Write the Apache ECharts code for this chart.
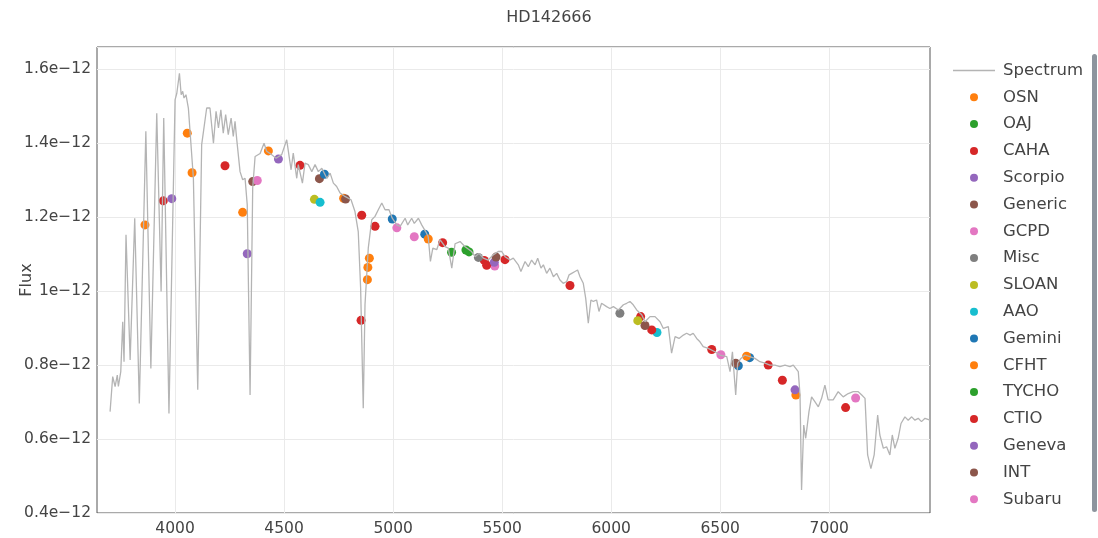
<!DOCTYPE html>
<html>
<head>
<meta charset="utf-8">
<title>HD142666</title>
<script src="https://cdn.jsdelivr.net/npm/echarts@6/dist/echarts.min.js"></script>
<style>
  html, body { margin: 0; padding: 0; background: #fff; }
  #chart { width: 1098px; height: 538px; }
</style>
</head>
<body>
<div id="chart"></div>
<script>
// Flux values are in units of 1e-12; wavelengths in Angstrom.
const xTicks = [4000, 4500, 5000, 5500, 6000, 6500, 7000];
const yTicks = [0.4, 0.6, 0.8, 1.0, 1.2, 1.4, 1.6];

const specWave = [3702,3714,3725,3735,3740,3751,3760,3766,3775,3794,3815,3836,3866,3889,3916,3936,3948,3972,
  4000,4008,4020,4028,4035,4041,4050,4061,4084,4104,4122,4145,4160,4176,4188,4199,4210,4221,4232,4244,4257,4267,
  4275,4283,4298,4310,4321,4331,4344,4356,4367,4375,4390,4408,4420,4428,4443,4463,4489,4512,4532,4542,4558,4565,
  4584,4596,4611,4627,4642,4657,4673,4696,4711,4726,4741,4757,4779,4807,4825,4840,4851,4863,4871,4886,4902,4917,
  4932,4948,4963,4981,4996,5017,5032,5055,5067,5085,5097,5116,5131,5149,5161,5171,5182,5200,5215,5238,5253,5269,
  5284,5307,5330,5360,5376,5394,5414,5436,5459,5482,5498,5513,5536,5551,5574,5586,5605,5620,5635,5651,5663,5678,
  5689,5704,5719,5735,5750,5765,5780,5796,5807,5819,5834,5846,5857,5872,5883,5895,5907,5918,5933,5944,5956,5979,
  5994,6010,6033,6056,6071,6086,6101,6117,6140,6155,6178,6201,6224,6239,6262,6277,6293,6311,6331,6346,6362,6376,
  6392,6407,6422,6445,6476,6499,6530,6545,6556,6571,6580,6595,6613,6636,6659,6682,6705,6728,6751,6774,6797,6820,
  6835,6858,6866,6873,6883,6892,6907,6919,6934,6950,6965,6980,6995,7018,7041,7064,7087,7110,7133,7149,7164,7176,
  7191,7206,7222,7232,7248,7263,7278,7289,7301,7316,7329,7347,7362,7378,7393,7408,7423,7439,7462];
const specFlux = [0.674,0.769,0.742,0.773,0.742,0.782,0.917,0.809,1.152,0.814,1.197,0.696,1.432,0.791,1.481,0.999,1.468,0.669,
  1.517,1.535,1.589,1.531,1.540,1.522,1.531,1.495,1.305,0.733,1.396,1.495,1.495,1.400,1.486,1.441,1.490,1.427,1.477,1.423,1.468,1.418,
  1.459,1.409,1.323,1.301,1.305,1.233,0.719,1.278,1.364,1.359,1.372,1.400,1.378,1.373,1.369,1.359,1.369,1.409,1.328,1.373,1.305,1.342,
  1.292,1.346,1.342,1.323,1.342,1.323,1.332,1.305,1.319,1.292,1.283,1.265,1.256,1.247,1.215,1.161,1.008,0.683,0.963,1.116,1.193,1.202,
  1.220,1.238,1.220,1.220,1.197,1.179,1.175,1.197,1.179,1.197,1.183,1.197,1.179,1.161,1.147,1.080,1.116,1.112,1.139,1.120,1.116,1.062,
  1.128,1.134,1.120,1.107,1.093,1.102,1.089,1.084,1.098,1.107,1.107,1.093,1.084,1.089,1.071,1.053,1.080,1.066,1.084,1.071,1.089,1.062,
  1.071,1.048,1.062,1.039,1.048,1.030,1.021,1.026,1.044,1.048,1.053,1.057,1.039,1.021,0.981,0.913,0.976,0.972,0.976,0.945,0.967,0.958,
  0.953,0.958,0.949,0.963,0.967,0.972,0.963,0.949,0.936,0.917,0.931,0.931,0.917,0.899,0.904,0.832,0.877,0.872,0.881,0.886,0.881,0.886,
  0.872,0.863,0.850,0.845,0.836,0.827,0.823,0.782,0.836,0.719,0.805,0.818,0.827,0.823,0.818,0.809,0.805,0.800,0.800,0.796,0.800,0.796,
  0.800,0.782,0.719,0.462,0.638,0.602,0.674,0.714,0.701,0.687,0.710,0.746,0.706,0.706,0.728,0.714,0.723,0.728,0.728,0.719,0.710,0.557,
  0.520,0.557,0.665,0.611,0.575,0.579,0.557,0.611,0.575,0.602,0.642,0.660,0.651,0.660,0.651,0.656,0.647,0.656,0.651];

// Photometric points per source: [wavelength, flux]
const OSN = [[3862,1.179],[4056,1.427],[4078,1.320],[4310,1.213],[4428,1.379],[4773,1.251],[4891,1.089],[4884,1.064],[4882,1.031]];
const OAJ = [[5268,1.105],[5334,1.111]];
const CAHA = [[3946,1.244],[4229,1.339],[4573,1.340],[4856,1.205],[4917,1.175],[4853,0.921],[5227,1.131],[5418,1.083],[5513,1.085],[5811,1.015],[6135,0.931],[6461,0.842],[6720,0.800],[7075,0.685]];
const Scorpio = [[3985,1.250],[4331,1.101],[4474,1.357]];
const Generic = [[4356,1.296],[4662,1.304],[4782,1.249]];
const GCPD = [[4377,1.299],[5017,1.171],[5097,1.147],[5466,1.068]];
const Misc = [[5391,1.091],[6040,0.940]];
const SLOAN = [[4639,1.248],[6122,0.920]];
const AAO = [[4665,1.240],[6210,0.888]];
const Gemini = [[4685,1.316],[4996,1.195],[5145,1.154],[6583,0.798],[6635,0.820]];
const CFHT = [[5161,1.141],[6621,0.824],[6847,0.719]];
const TYCHO = [[5348,1.106]];
const CTIO = [[5429,1.070],[6186,0.895],[6785,0.759]];
const Geneva = [[5464,1.078],[6843,0.733]];
const INT = [[5472,1.092],[6155,0.907],[6571,0.805]];
const Subaru = [[6503,0.828],[7121,0.711]];

const sources = [
  ['OSN', OSN, '#ff7f0e'], ['OAJ', OAJ, '#2ca02c'], ['CAHA', CAHA, '#d62728'], ['Scorpio', Scorpio, '#9467bd'],
  ['Generic', Generic, '#8c564b'], ['GCPD', GCPD, '#e377c2'], ['Misc', Misc, '#7f7f7f'], ['SLOAN', SLOAN, '#bcbd22'],
  ['AAO', AAO, '#17becf'], ['Gemini', Gemini, '#1f77b4'], ['CFHT', CFHT, '#ff7f0e'], ['TYCHO', TYCHO, '#2ca02c'],
  ['CTIO', CTIO, '#d62728'], ['Geneva', Geneva, '#9467bd'], ['INT', INT, '#8c564b'], ['Subaru', Subaru, '#e377c2']
];

const FONT = 'DejaVu Sans';
const TEXT = '#444';

const series = [{
  name: 'Spectrum',
  type: 'line',
  data: specWave.map((w, i) => [w, specFlux[i]]),
  symbol: 'none',
  lineStyle: { color: '#b4b4b4', width: 1.3 },
  itemStyle: { color: '#b4b4b4' },
  silent: true,
  animation: false
}].concat(sources.map(([name, pts, color]) => ({
  name,
  type: 'scatter',
  data: pts,
  symbol: 'circle',
  symbolSize: 9,
  itemStyle: { color, opacity: 1 },
  animation: false
})));

const chart = echarts.init(document.getElementById('chart'), null, { renderer: 'canvas' });
chart.setOption({
  backgroundColor: '#fff',
  animation: false,
  title: {
    text: 'HD142666',
    left: 'center',
    top: 5,
    textStyle: { fontFamily: FONT, fontSize: 16, fontWeight: 'normal', color: TEXT }
  },
  grid: {
    left: 97, top: 47, width: 833, height: 466,
    outerBoundsMode: 'none',
    containLabel: false,
    show: true, borderColor: '#555', borderWidth: 1, backgroundColor: 'transparent'
  },
  legend: {
    orient: 'vertical',
    left: 953,
    top: 61.5,
    padding: 0,
    itemWidth: 42,
    itemHeight: 8,
    itemGap: 8.8,
    icon: 'circle',
    textStyle: { fontFamily: FONT, fontSize: 16.5, color: TEXT, lineHeight: 18, padding: [0, 0, 0, 3] },
    data: [{ name: 'Spectrum', icon: 'path://M0,0 L40,0 L40,1.4 L0,1.4 Z', itemStyle: { color: '#b4b4b4' } }]
      .concat(sources.map(s => ({ name: s[0] })))
  },
  xAxis: {
    type: 'value',
    min: 3642,
    max: 7462,
    axisLine: { show: false },
    axisTick: { show: false, customValues: xTicks },
    axisLabel: {
      customValues: xTicks,
      margin: 8,
      fontFamily: FONT, fontSize: 15.5, color: TEXT,
      formatter: v => String(v)
    },
    splitLine: { show: true, lineStyle: { color: '#eaeaea', width: 1 } }
  },
  yAxis: {
    type: 'value',
    min: 0.4,
    max: 1.66,
    interval: 0.2,
    name: 'Flux',
    nameLocation: 'middle',
    nameRotate: 90,
    nameGap: 62,
    nameMoveOverlap: false,
    nameTextStyle: { fontFamily: FONT, fontSize: 16, color: TEXT },
    axisLine: { show: false },
    axisTick: { show: false },
    axisLabel: {
      margin: 6,
      showMaxLabel: false,
      fontFamily: FONT, fontSize: 15.5, color: TEXT,
      formatter: v => (v > 1.65 ? '' : parseFloat(v.toFixed(1)) + 'e\u221212')
    },
    splitLine: { show: true, lineStyle: { color: '#eaeaea', width: 1 } }
  },
  graphic: [{
    type: 'rect',
    left: 1092, top: 54,
    shape: { width: 5, height: 458, r: 2.5 },
    style: { fill: '#8d949d' },
    silent: true
  }],
  series
});
</script>
</body>
</html>
